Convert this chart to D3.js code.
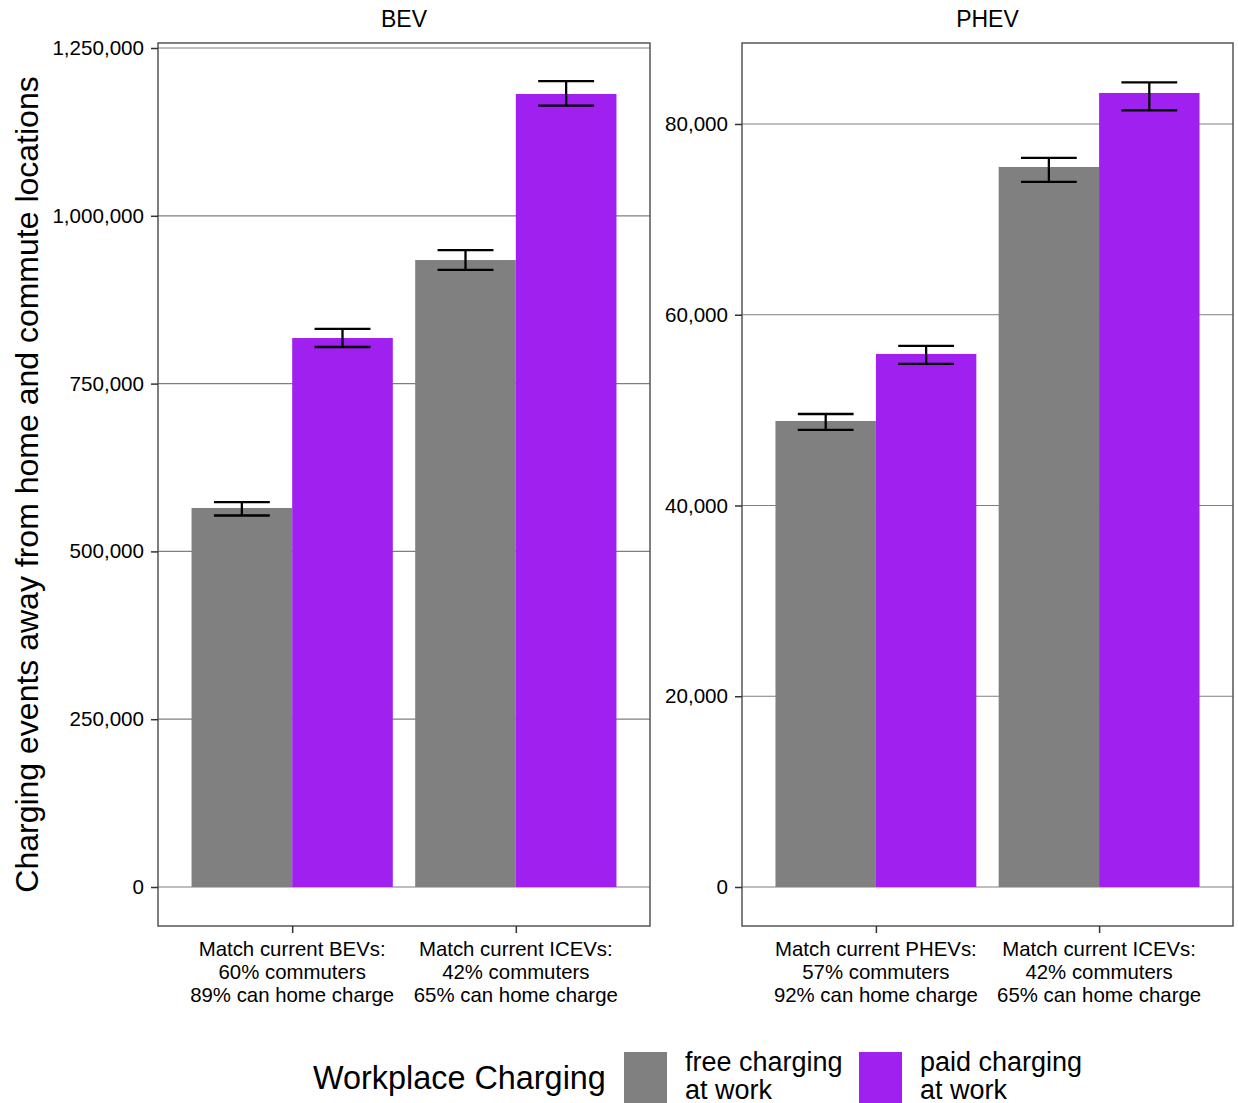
<!DOCTYPE html>
<html>
<head>
<meta charset="utf-8">
<script src="https://cdn.jsdelivr.net/npm/d3@7"></script>
<style>
  body { margin: 0; background: #fff; }
  svg text { font-family: "Liberation Sans", Arial, sans-serif; fill: #000; }
</style>
</head>
<body>
<div id="chart"></div>
<script>
// data
var facets = ["BEV", "PHEV"];
var groups = ["free charging at work", "paid charging at work"];
var groupColors = ["#808080", "#a020f0"];

var bevCats = [
  ["Match current BEVs:", "60% commuters", "89% can home charge"],
  ["Match current ICEVs:", "42% commuters", "65% can home charge"]
];
var phevCats = [
  ["Match current PHEVs:", "57% commuters", "92% can home charge"],
  ["Match current ICEVs:", "42% commuters", "65% can home charge"]
];

// [free, paid] per category
var bevMean = [[564700, 817900], [934100, 1181500]];
var bevLow  = [[553500, 804500], [919500, 1164000]];
var bevHigh = [[573500, 831500], [949000, 1200500]];

var phevMean = [[48860, 55890], [75490, 83250]];
var phevLow  = [[47920, 54840], [73920, 81440]];
var phevHigh = [[49590, 56730], [76440, 84370]];

var bevTicks = [0, 250000, 500000, 750000, 1000000, 1250000];
var phevTicks = [0, 20000, 40000, 60000, 80000];

var bevLimits = [-58100, 1257450];
var phevLimits = [-4090, 88490];

var W = 1238, H = 1103;
var svg = d3.select("#chart").append("svg")
  .attr("width", W).attr("height", H);

var panelTop = 43, panelBottom = 926;

var panels = [
  { name: facets[0], x0: 158, x1: 650, cats: bevCats, mean: bevMean, lo: bevLow, hi: bevHigh, ticks: bevTicks, lim: bevLimits },
  { name: facets[1], x0: 742, x1: 1233, cats: phevCats, mean: phevMean, lo: phevLow, hi: phevHigh, ticks: phevTicks, lim: phevLimits }
];

var fmt = d3.format(",");

panels.forEach(function(p) {
  var g = svg.append("g");
  var y = d3.scaleLinear().domain(p.lim).range([panelBottom, panelTop]);
  // ggplot style discrete scale: 0.6 unit expansion on each side
  var x = d3.scaleLinear().domain([0.4, p.cats.length + 0.6]).range([p.x0, p.x1]);

  // gridlines
  g.append("g").selectAll("line").data(p.ticks).join("line")
    .attr("x1", p.x0).attr("x2", p.x1)
    .attr("y1", function(d) { return y(d); })
    .attr("y2", function(d) { return y(d); })
    .attr("stroke", "#7f7f7f").attr("stroke-width", 1.2);

  var rows = [];
  p.cats.forEach(function(c, i) {
    groups.forEach(function(gr, j) {
      rows.push({ cat: i + 1, grp: j, mean: p.mean[i][j], lo: p.lo[i][j], hi: p.hi[i][j] });
    });
  });

  var bw = 0.45;
  g.append("g").selectAll("rect").data(rows).join("rect")
    .attr("x", function(d) { return x(d.cat - 0.45 + d.grp * bw); })
    .attr("width", x(bw) - x(0))
    .attr("y", function(d) { return y(d.mean); })
    .attr("height", function(d) { return y(0) - y(d.mean); })
    .attr("fill", function(d) { return groupColors[d.grp]; });

  // error bars
  var eb = g.append("g").attr("stroke", "#000").attr("stroke-width", 2.3).attr("fill", "none");
  rows.forEach(function(d) {
    var cx = x(d.cat - 0.225 + d.grp * bw);
    var hw = (x(0.125) - x(0));
    eb.append("line").attr("x1", cx).attr("x2", cx).attr("y1", y(d.lo)).attr("y2", y(d.hi));
    eb.append("line").attr("x1", cx - hw).attr("x2", cx + hw).attr("y1", y(d.lo)).attr("y2", y(d.lo));
    eb.append("line").attr("x1", cx - hw).attr("x2", cx + hw).attr("y1", y(d.hi)).attr("y2", y(d.hi));
  });

  // panel border
  g.append("rect")
    .attr("x", p.x0).attr("y", panelTop)
    .attr("width", p.x1 - p.x0).attr("height", panelBottom - panelTop)
    .attr("fill", "none").attr("stroke", "#555").attr("stroke-width", 1.5);

  // y axis
  var ya = g.append("g").attr("transform", "translate(" + p.x0 + ",0)")
    .call(d3.axisLeft(y).tickValues(p.ticks).tickFormat(fmt).tickSize(7).tickPadding(7));
  ya.select(".domain").remove();
  ya.selectAll(".tick line").attr("stroke", "#333").attr("stroke-width", 1.5);
  ya.selectAll(".tick text").attr("font-size", 20.6).attr("fill", "#111");

  // x axis
  var xa = g.append("g").attr("transform", "translate(0," + panelBottom + ")")
    .call(d3.axisBottom(x).tickValues(d3.range(1, p.cats.length + 1)).tickSize(7).tickFormat(""));
  xa.select(".domain").remove();
  xa.selectAll(".tick line").attr("stroke", "#333").attr("stroke-width", 1.5);

  p.cats.forEach(function(lines, i) {
    var t = g.append("text")
      .attr("text-anchor", "middle")
      .attr("font-size", 20.4).attr("fill", "#111");
    lines.forEach(function(s, k) {
      t.append("tspan").attr("x", x(i + 1)).attr("y", 956 + k * 22.8).text(s);
    });
  });

  // strip title
  g.append("text")
    .attr("x", (p.x0 + p.x1) / 2).attr("y", 27)
    .attr("text-anchor", "middle").attr("font-size", 23)
    .text(p.name);
});

// y axis title
svg.append("text")
  .attr("transform", "translate(38," + (panelTop + panelBottom) / 2 + ") rotate(-90)")
  .attr("text-anchor", "middle").attr("font-size", 32)
  .text("Charging events away from home and commute locations");

// legend
var leg = svg.append("g");
leg.append("text").attr("x", 313).attr("y", 1089).attr("font-size", 32.4).text("Workplace Charging");
var keyX = [624, 859];
groups.forEach(function(gr, j) {
  leg.append("rect").attr("x", keyX[j]).attr("y", 1052).attr("width", 43).attr("height", 51)
    .attr("fill", groupColors[j]);
  var words = gr.split(" at ");
  var t = leg.append("text").attr("font-size", 27);
  t.append("tspan").attr("x", keyX[j] + 61).attr("y", 1071).text(words[0]);
  t.append("tspan").attr("x", keyX[j] + 61).attr("y", 1099).text("at " + words[1]);
});
</script>
</body>
</html>
